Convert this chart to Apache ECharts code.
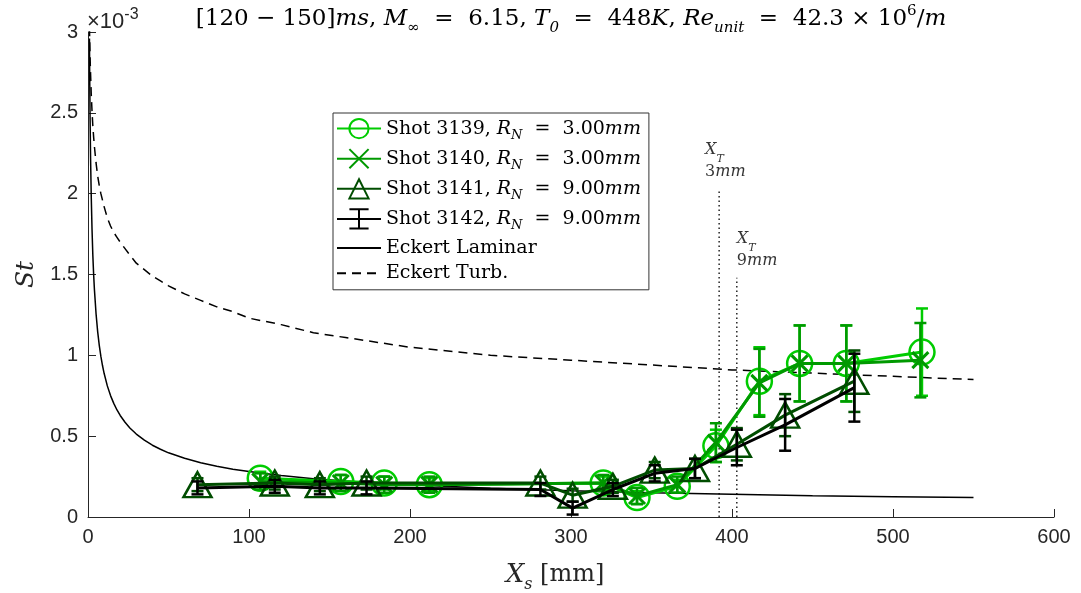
<!DOCTYPE html>
<html><head><meta charset="utf-8">
<script src="https://cdn.jsdelivr.net/npm/echarts@6/dist/echarts.min.js"></script>
<style>html,body{margin:0;padding:0;background:#fff}#c{width:1081px;height:593px}</style>
</head><body><div id="c"></div>
<script>
// ---- data (St in units of 1e-3) ----
const x3139 = [107, 157, 184, 212, 320, 341, 366, 390, 417, 442, 471, 518];
const y3139 = [0.24, 0.22, 0.21, 0.20, 0.21, 0.12, 0.19, 0.44, 0.84, 0.95, 0.95, 1.02];
const e3139 = [0.04, 0.04, 0.04, 0.04, 0.04, 0.04, 0.04, 0.10, 0.21, 0.235, 0.235, 0.27];

const x3140 = [107, 157, 184, 212, 320, 341, 366, 390, 417, 442, 471, 517];
const y3140 = [0.22, 0.21, 0.20, 0.20, 0.21, 0.13, 0.20, 0.46, 0.83, 0.95, 0.95, 0.97];
const e3140 = [0.05, 0.05, 0.05, 0.05, 0.05, 0.05, 0.05, 0.12, 0.21, 0.235, 0.235, 0.23];

const x3141 = [68, 116, 144, 173, 281, 301, 326, 352, 377, 403, 433, 476];
const y3141 = [0.20, 0.21, 0.20, 0.21, 0.21, 0.135, 0.19, 0.29, 0.30, 0.45, 0.63, 0.84];
const e3141 = [0.04, 0.04, 0.04, 0.04, 0.04, 0.04, 0.04, 0.05, 0.06, 0.10, 0.13, 0.19];

const x3142 = [68, 116, 144, 173, 281, 301, 326, 352, 377, 403, 433, 476];
const y3142 = [0.18, 0.19, 0.18, 0.18, 0.17, 0.055, 0.17, 0.27, 0.30, 0.43, 0.57, 0.80];
const e3142 = [0.04, 0.04, 0.04, 0.04, 0.04, 0.04, 0.04, 0.05, 0.06, 0.11, 0.16, 0.21];

const xCurve = [0.9, 1.1, 1.3, 1.6, 2, 2.5, 3, 3.5, 4, 5, 6, 7, 8, 9, 10, 12, 14, 16, 18, 20, 23, 26, 30, 35, 40, 45, 50, 60, 70, 80, 90, 100, 120, 140, 160, 180, 200, 250, 300, 350, 400, 450, 500, 550];
const yLam = [2.96, 2.68, 2.46, 2.22, 1.99, 1.78, 1.62, 1.50, 1.405, 1.257, 1.147, 1.062, 0.993, 0.937, 0.889, 0.811, 0.751, 0.703, 0.662, 0.628, 0.586, 0.551, 0.513, 0.475, 0.444, 0.419, 0.397, 0.363, 0.336, 0.314, 0.296, 0.281, 0.257, 0.237, 0.222, 0.209, 0.199, 0.178, 0.162, 0.150, 0.140, 0.132, 0.126, 0.120];
const yTurb = [3.03, 2.93, 2.84, 2.74, 2.62, 2.51, 2.42, 2.35, 2.29, 2.19, 2.11, 2.05, 2.00, 1.96, 1.92, 1.85, 1.80, 1.76, 1.73, 1.70, 1.66, 1.62, 1.57, 1.53, 1.49, 1.46, 1.43, 1.38, 1.34, 1.30, 1.27, 1.23, 1.19, 1.14, 1.11, 1.08, 1.05, 1.00, 0.97, 0.94, 0.91, 0.89, 0.87, 0.85];

const xT = [392, 403];          // transition locations
const xTtop = [2.03, 1.48];     // top of dotted markers
const xTlab = ['3', '9'];

const xTicks = [0, 100, 200, 300, 400, 500, 600];
const yTicks = [0, 0.5, 1, 1.5, 2, 2.5, 3];

// ---- build ----
const C1 = '#00cc00', C2 = '#009900', C3 = '#004d00', C4 = '#000000';
const zip = (a, b) => a.map((v, i) => [v, b[i]]);
const ebData = (x, y, e) => x.map((v, i) => [v, y[i] - e[i], y[i] + e[i]]);
const SERIF = '"DejaVu Serif", "Liberation Serif", serif';
const SANS = '"Liberation Sans", Arial, Helvetica, sans-serif';
const TRANSP = 'rgba(0,0,0,0)';
const IBEAM = 'path://M0,0L10,0M5,0L5,20M0,20L10,20';

function ebSeries(name, x, y, e, color, z) {
  return {
    name: name, type: 'custom', z: z,
    data: ebData(x, y, e),
    encode: { x: 0, y: [1, 2] },
    renderItem: function (params, api) {
      const xv = api.value(0), lo = api.value(1), hi = api.value(2);
      const p1 = api.coord([xv, lo]), p2 = api.coord([xv, hi]);
      const w = 6;
      const st = { stroke: color, lineWidth: 2.5, fill: null };
      return {
        type: 'group', children: [
          { type: 'line', shape: { x1: p1[0], y1: p1[1], x2: p2[0], y2: p2[1] }, style: st },
          { type: 'line', shape: { x1: p1[0] - w, y1: p1[1], x2: p1[0] + w, y2: p1[1] }, style: st },
          { type: 'line', shape: { x1: p2[0] - w, y1: p2[1], x2: p2[0] + w, y2: p2[1] }, style: st }
        ]
      };
    },
    silent: true
  };
}

const richSub = {
  i: { fontFamily: SERIF, fontStyle: 'italic', fontSize: 19, color: '#000' },
  sub: { fontFamily: SERIF, fontStyle: 'italic', fontSize: 13, color: '#000', verticalAlign: 'bottom', lineHeight: 13, padding: [0, 0, -4, 0] }
};

const legendNames = {
  'Shot 3139': 'Shot 3139, {i|R}{sub|N}  =  3.00{i|mm}',
  'Shot 3140': 'Shot 3140, {i|R}{sub|N}  =  3.00{i|mm}',
  'Shot 3141': 'Shot 3141, {i|R}{sub|N}  =  9.00{i|mm}',
  'Shot 3142': 'Shot 3142, {i|R}{sub|N}  =  9.00{i|mm}',
  'Eckert Laminar': 'Eckert Laminar',
  'Eckert Turb.': 'Eckert Turb.'
};

const labelDx = [-14, 0];
const xtSeries = xT.map((xv, i) => ({
  name: 'xt' + i, type: 'line', z: 1, symbol: 'none', silent: true,
  lineStyle: { color: '#000', width: 1.3, type: [1.5, 3] },
  data: [[xv, 0], [xv, xTtop[i]]]
}));
const xtLabels = {
  name: 'xtlab', type: 'scatter', z: 1, silent: true, symbolSize: 1,
  itemStyle: { color: TRANSP },
  data: xT.map((xv, i) => ({
    value: [xv, xTtop[i]],
    label: {
      show: true, position: 'top', distance: 5, offset: [labelDx[i], 0], align: 'left',
      formatter: '{i|X}{sub|T}\n{n|' + xTlab[i] + '}{i|mm}',
      rich: {
        i: { fontFamily: SERIF, fontStyle: 'italic', fontSize: 16, color: '#000', lineHeight: 22 },
        n: { fontFamily: SERIF, fontSize: 16, color: '#000', lineHeight: 22 },
        sub: { fontFamily: SERIF, fontStyle: 'italic', fontSize: 11, color: '#000', verticalAlign: 'bottom', lineHeight: 11, padding: [0, 0, -3, 0] }
      }
    }
  }))
};

const chart = echarts.init(document.getElementById('c'));
chart.setOption({
  animation: false,
  backgroundColor: '#fff',
  grid: { left: 88, right: 27, top: 32, bottom: 76, containLabel: false, outerBoundsMode: 'none' },
  xAxis: {
    type: 'value', min: xTicks[0], max: xTicks[xTicks.length - 1], interval: 100,
    axisLine: { show: true, onZero: false, lineStyle: { color: '#262626', width: 1 } },
    axisTick: { show: true, inside: true, length: 8, lineStyle: { color: '#262626' } },
    axisLabel: { color: '#262626', fontFamily: SANS, fontSize: 20, margin: 10 },
    splitLine: { show: false },
    name: '{i|X}{sub|s} [mm]', nameLocation: 'middle', nameGap: 45,
    nameTextStyle: {
      fontFamily: SERIF, fontSize: 24, color: '#262626', padding: [0, 32, 0, 0],
      rich: {
        i: { fontFamily: SERIF, fontStyle: 'italic', fontSize: 26, color: '#262626' },
        sub: { fontFamily: SERIF, fontStyle: 'italic', fontSize: 16, color: '#262626', verticalAlign: 'bottom', lineHeight: 16, padding: [0, 0, -5, 0] }
      }
    }
  },
  yAxis: {
    type: 'value', min: yTicks[0], max: yTicks[yTicks.length - 1], interval: 0.5,
    axisLine: { show: true, lineStyle: { color: '#262626', width: 1 } },
    axisTick: { show: true, inside: true, length: 8, lineStyle: { color: '#262626' } },
    axisLabel: { color: '#262626', fontFamily: SANS, fontSize: 20, margin: 10 },
    splitLine: { show: false },
    name: 'St', nameLocation: 'middle', nameGap: 45, nameRotate: 90,
    nameTextStyle: { fontFamily: SERIF, fontStyle: 'italic', fontSize: 25, color: '#262626' }
  },
  legend: {
    data: ['Shot 3139', 'Shot 3140', 'Shot 3141', 'Shot 3142', 'Eckert Laminar', 'Eckert Turb.'],
    orient: 'vertical', left: 333, top: 113,
    backgroundColor: '#fff', borderColor: '#333', borderWidth: 1,
    padding: [5, 8, 7, 3], itemGap: 6, itemWidth: 44, itemHeight: 24,
    textStyle: { fontFamily: SERIF, fontSize: 19, color: '#000', rich: richSub },
    formatter: n => legendNames[n] || n
  },
  graphic: [
    {
      type: 'text', x: 571, y: 19, silent: true,
      style: {
        text: '[120 − 150]{i|ms}, {i|M}{sub|∞}  =  6.15, {i|T}{sub|0}  =  448{i|K}, {i|Re}{sub|unit}  =  42.3 × 10{sup|6}/{i|m}',
        font: '23px ' + SERIF, fill: '#000', align: 'center', verticalAlign: 'middle',
        rich: {
          i: { fontFamily: SERIF, fontStyle: 'italic', fontSize: 23, fill: '#000' },
          sub: { fontFamily: SERIF, fontStyle: 'italic', fontSize: 15, fill: '#000', verticalAlign: 'bottom', lineHeight: 15, padding: [0, 0, -5, 0] },
          sup: { fontFamily: SERIF, fontSize: 15, fill: '#000', verticalAlign: 'top', lineHeight: 15, padding: [-4, 0, 0, 0] }
        }
      }
    },
    {
      type: 'text', left: 87, top: 7, silent: true,
      style: {
        text: '×10{sup|-3}', font: '22px ' + SANS, fill: '#262626',
        rich: { sup: { fontFamily: SANS, fontSize: 16, fill: '#262626', verticalAlign: 'top', lineHeight: 16, padding: [-4, 0, 0, 0] } }
      }
    }
  ],
  series: [
    {
      name: 'Eckert Laminar', type: 'line', z: 2, symbol: 'circle', showSymbol: false, silent: true,
      lineStyle: { color: '#000', width: 1.5 }, itemStyle: { color: TRANSP, borderWidth: 0 },
      data: zip(xCurve, yLam)
    },
    {
      name: 'Eckert Turb.', type: 'line', z: 2, symbol: 'circle', showSymbol: false, silent: true,
      lineStyle: { color: '#000', width: 1.5, type: [9, 6] }, itemStyle: { color: TRANSP, borderWidth: 0 },
      data: zip(xCurve, yTurb)
    },
    ...xtSeries,
    xtLabels,
    ebSeries('eb3139', x3139, y3139, e3139, C1, 3),
    {
      name: 'Shot 3139', type: 'line', z: 3, symbol: 'circle', symbolSize: 25,
      lineStyle: { color: C1, width: 3 },
      itemStyle: { color: TRANSP, borderColor: C1, borderWidth: 2.5 },
      data: zip(x3139, y3139)
    },
    ebSeries('eb3140', x3140, y3140, e3140, C2, 4),
    {
      name: 'Shot 3140', type: 'line', z: 4, symbol: 'path://M0,0L10,10M10,0L0,10', symbolSize: 16,
      lineStyle: { color: C2, width: 3 },
      itemStyle: { color: TRANSP, borderColor: C2, borderWidth: 3 },
      data: zip(x3140, y3140)
    },
    ebSeries('eb3141', x3141, y3141, e3141, C3, 5),
    {
      name: 'Shot 3141', type: 'line', z: 5, symbol: 'triangle', symbolSize: [28, 25],
      lineStyle: { color: C3, width: 3 },
      itemStyle: { color: TRANSP, borderColor: C3, borderWidth: 2.5 },
      data: zip(x3141, y3141)
    },
    ebSeries('eb3142', x3142, y3142, e3142, C4, 6),
    {
      name: 'Shot 3142', type: 'line', z: 6, symbol: IBEAM, showSymbol: false, symbolSize: [10, 20],
      lineStyle: { color: C4, width: 3 },
      itemStyle: { color: TRANSP, borderColor: C4, borderWidth: 3 },
      data: zip(x3142, y3142)
    }
  ]
});
</script>
</body></html>
